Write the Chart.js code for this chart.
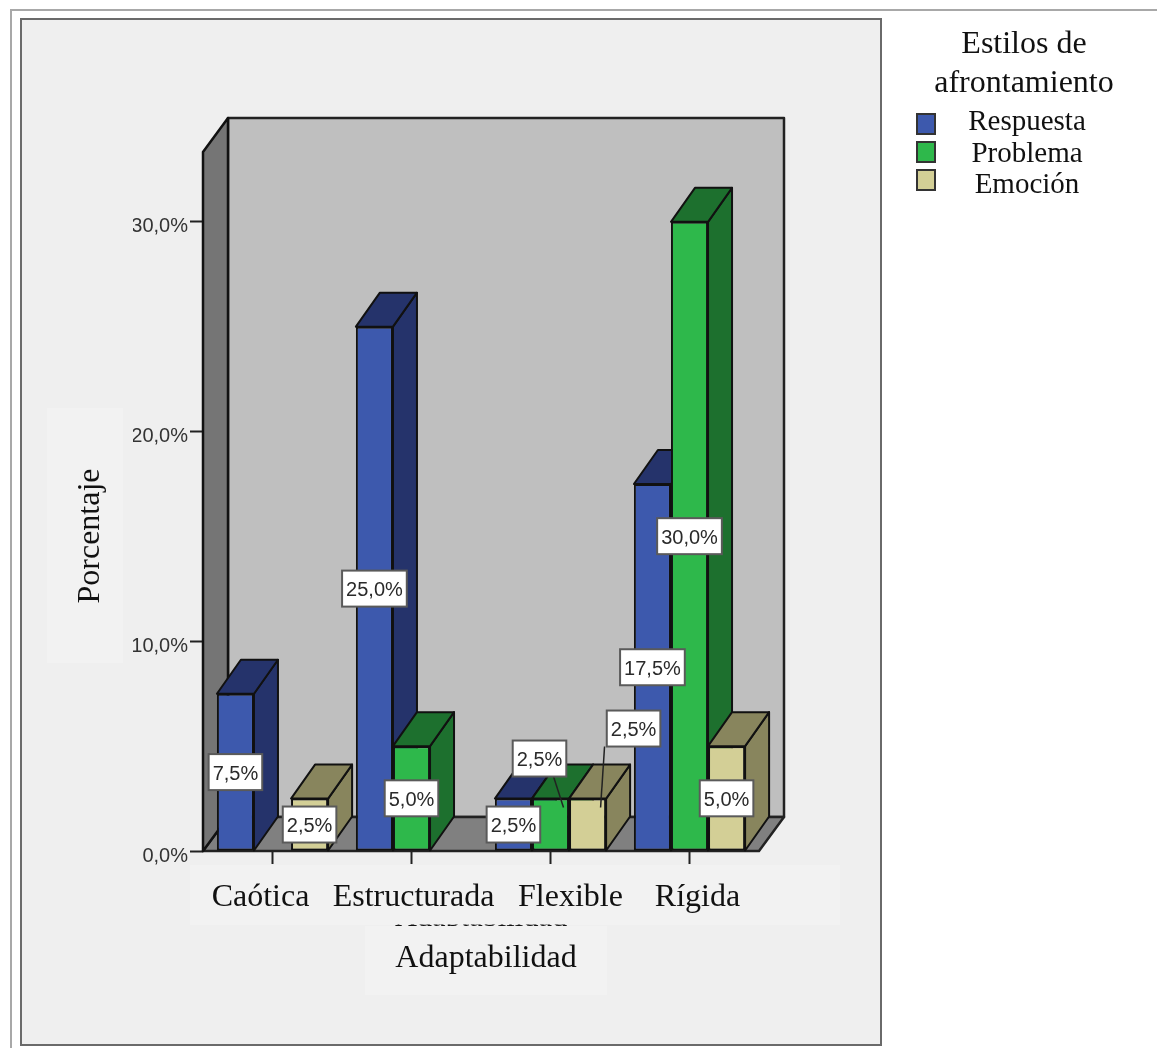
<!DOCTYPE HTML>
<html>

<head>
    <title>Adaptabilidad</title>
    <meta charset="utf-8">
    <script src="https://cdn.jsdelivr.net/npm/chart.js@4"></script>
    <style>
        html, body {
            margin: 0;
            padding: 0;
            background: #fff;
        }

        #chart {
            display: block;
        }
    </style>
</head>

<body>
    <canvas id="chart" width="1157" height="1048"></canvas>

    <script>
        var categories = ["Caótica", "Estructurada", "Flexible", "Rígida"];
        var respuesta = [7.5, 25, 2.5, 17.5];
        var problema = [null, 5, 2.5, 30];
        var emocion = [2.5, null, 2.5, 5];
        var yTicks = [0, 10, 20, 30];

        var SERIF = '"Liberation Serif", serif';
        var SANS = '"Liberation Sans", sans-serif';

        // how far the box is pushed back and up
        var DEPTH_X = 24;
        var DEPTH_Y = -34;

        // category labels do not sit exactly under their ticks
        var categoryNudge = [-12, 2, 20, 8];

        // the two labels moved out of the Flexible bars, with leader lines
        // "dataset:index": box offset from the bar centre, leader end from the bar centre
        var labelMoves = {
            "1:2": { dx: -11, dy: -66, lx: 13, ly: -17, fromX: 14, fromY: 18 },
            "2:2": { dx: 46, dy: -96, lx: 13, ly: -17, fromX: -29, fromY: 18 }
        };

        function pct(v) {
            return v.toFixed(1).replace(".", ",") + "%";
        }

        function poly(ctx, pts, fill, stroke, lw) {
            ctx.beginPath();
            ctx.moveTo(pts[0][0], pts[0][1]);
            for (var i = 1; i < pts.length; i++) ctx.lineTo(pts[i][0], pts[i][1]);
            ctx.closePath();
            ctx.fillStyle = fill;
            ctx.fill();
            if (stroke) {
                ctx.strokeStyle = stroke;
                ctx.lineWidth = lw;
                ctx.lineJoin = "round";
                ctx.stroke();
            }
        }

        function text(ctx, str, x, y, font, color) {
            ctx.font = font;
            ctx.fillStyle = color || "#111";
            ctx.textAlign = "center";
            ctx.textBaseline = "middle";
            ctx.fillText(str, x, y);
        }

        var box3d = {
            id: "box3d",

            // page frames and the lighter boxes behind the axis texts
            beforeDraw: function (chart) {
                var ctx = chart.ctx;
                ctx.save();
                ctx.fillStyle = "#fff";
                ctx.fillRect(0, 0, 1157, 1048);
                ctx.strokeStyle = "#a8a8a8";
                ctx.lineWidth = 2;
                ctx.strokeRect(11, 10, 1160, 1060);
                ctx.fillStyle = "#efefef";
                ctx.fillRect(21, 19, 860, 1026);
                ctx.strokeStyle = "#6a6a6a";
                ctx.lineWidth = 2;
                ctx.strokeRect(21, 19, 860, 1026);

                ctx.fillStyle = "#f2f2f2";
                ctx.fillRect(47, 408, 76, 255);
                ctx.fillRect(190, 865, 650, 60);
                ctx.fillRect(365, 926, 242, 69);
                ctx.restore();
            },

            // walls, floor, then the bars from left to right so that each
            // front covers the side of the bar before it
            beforeDatasetsDraw: function (chart) {
                var ctx = chart.ctx;
                var a = chart.chartArea;
                var l = a.left, r = a.right, t = a.top, b = a.bottom;
                var dx = DEPTH_X + 1, dy = DEPTH_Y;
                ctx.save();
                poly(ctx, [[l + dx, t + dy], [r + dx, t + dy], [r + dx, b + dy], [l + dx, b + dy]], "#bfbfbf", "#222", 2.5);
                poly(ctx, [[l, b], [l + dx, b + dy], [r + dx, b + dy], [r, b]], "#808080", "#222", 2.5);
                poly(ctx, [[l, t], [l + dx, t + dy], [l + dx, b + dy], [l, b]], "#757575", "#111", 2.5);

                chart.data.datasets.forEach(function (ds, di) {
                    chart.getDatasetMeta(di).data.forEach(function (el, i) {
                        if (ds.data[i] == null) return;
                        var hw = el.width / 2;
                        var x0 = el.x - hw, x1 = el.x + hw, y = el.y, base = el.base;
                        poly(ctx, [[x1, y], [x1 + DEPTH_X, y + DEPTH_Y], [x1 + DEPTH_X, base + DEPTH_Y], [x1, base]], ds.shadeColor, "#111", 2);
                        poly(ctx, [[x0, y], [x0 + DEPTH_X, y + DEPTH_Y], [x1 + DEPTH_X, y + DEPTH_Y], [x1, y]], ds.shadeColor, "#111", 2);
                        el.draw(ctx);
                    });
                });
                ctx.restore();
            },

            // bars are already painted above in the needed order
            beforeDatasetDraw: function () {
                return false;
            },

            afterDatasetsDraw: function (chart) {
                var ctx = chart.ctx;
                ctx.save();
                chart.data.datasets.forEach(function (ds, di) {
                    chart.getDatasetMeta(di).data.forEach(function (el, i) {
                        if (ds.data[i] == null) return;
                        var cx = el.x, cy = (el.y + el.base) / 2;
                        var m = labelMoves[di + ":" + i];
                        if (m) {
                            ctx.beginPath();
                            ctx.moveTo(cx + m.dx + m.fromX, cy + m.dy + m.fromY);
                            ctx.lineTo(cx + m.lx, cy + m.ly);
                            ctx.strokeStyle = "#222";
                            ctx.lineWidth = 1.5;
                            ctx.stroke();
                            cx += m.dx;
                            cy += m.dy;
                        }
                        var str = pct(ds.data[i]);
                        ctx.font = "20px " + SANS;
                        var w = ctx.measureText(str).width + 8;
                        ctx.fillStyle = "#fff";
                        ctx.fillRect(cx - w / 2, cy - 18, w, 36);
                        ctx.strokeStyle = "#5a5a5a";
                        ctx.lineWidth = 2;
                        ctx.strokeRect(cx - w / 2, cy - 18, w, 36);
                        text(ctx, str, cx, cy + 2, "20px " + SANS, "#2a2a2a");
                    });
                });
                ctx.restore();
            },

            // axis texts and legend
            afterDraw: function (chart) {
                var ctx = chart.ctx;
                var x = chart.scales.x;
                ctx.save();
                categories.forEach(function (c, i) {
                    text(ctx, c, x.getPixelForValue(i) + categoryNudge[i], 898, "32px " + SERIF);
                });
                text(ctx, "Adaptabilidad", 486, 959, "32px " + SERIF);

                // the older axis title still peeks out under the label strip
                ctx.save();
                ctx.beginPath();
                ctx.rect(380, 924.5, 200, 1.5);
                ctx.clip();
                ctx.font = "30.4px " + SERIF;
                ctx.fillStyle = "#111";
                ctx.textAlign = "center";
                ctx.textBaseline = "alphabetic";
                ctx.fillText("Adaptabilidad", 481, 926);
                ctx.restore();

                ctx.save();
                ctx.translate(91, 536);
                ctx.rotate(-Math.PI / 2);
                text(ctx, "Porcentaje", 0, 0, "32px " + SERIF);
                ctx.restore();

                text(ctx, "Estilos de", 1024, 45, "32px " + SERIF);
                text(ctx, "afrontamiento", 1024, 84, "32px " + SERIF);
                chart.data.datasets.forEach(function (ds, i) {
                    var top = [114, 142, 170][i];
                    ctx.fillStyle = ds.backgroundColor;
                    ctx.fillRect(917, top, 18, 20);
                    ctx.strokeStyle = "#333";
                    ctx.lineWidth = 2;
                    ctx.strokeRect(917, top, 18, 20);
                    text(ctx, ds.label, 1027, [122, 154, 185][i], "29px " + SERIF);
                });
                ctx.restore();
            }
        };

        var barStyle = {
            borderColor: "#111",
            borderWidth: 2,
            borderSkipped: false,
            categoryPercentage: 0.8,
            barPercentage: 1
        };

        new Chart(document.getElementById("chart"), {
            type: "bar",
            plugins: [box3d],
            data: {
                labels: categories,
                datasets: [
                    Object.assign({ label: "Respuesta", data: respuesta, backgroundColor: "#3d59ad", shadeColor: "#25336b" }, barStyle),
                    Object.assign({ label: "Problema", data: problema, backgroundColor: "#2eb84b", shadeColor: "#1d702e" }, barStyle),
                    Object.assign({ label: "Emoción", data: emocion, backgroundColor: "#d3cf96", shadeColor: "#88855d" }, barStyle)
                ]
            },
            options: {
                responsive: false,
                animation: false,
                devicePixelRatio: 1,
                layout: { padding: { left: 133, right: 398, top: 152, bottom: 184 } },
                plugins: {
                    legend: { display: false },
                    tooltip: { enabled: false }
                },
                scales: {
                    x: {
                        afterFit: function (scale) { scale.height = 13; },
                        border: { display: false },
                        grid: { offset: false, drawOnChartArea: false, tickLength: 13, tickColor: "#222", tickWidth: 2 },
                        ticks: { display: false }
                    },
                    y: {
                        min: 0,
                        max: 33.33,
                        afterFit: function (scale) { scale.width = 70; },
                        afterBuildTicks: function (scale) {
                            scale.ticks = yTicks.map(function (v) { return { value: v }; });
                        },
                        border: { display: false },
                        grid: { drawOnChartArea: false, tickLength: 13, tickColor: "#222", tickWidth: 2 },
                        ticks: {
                            padding: 2,
                            labelOffset: 5,
                            color: "#333",
                            font: { family: "Liberation Sans", size: 20 },
                            callback: function (v) { return pct(v); }
                        }
                    }
                }
            }
        });
    </script>
</body>

</html>
